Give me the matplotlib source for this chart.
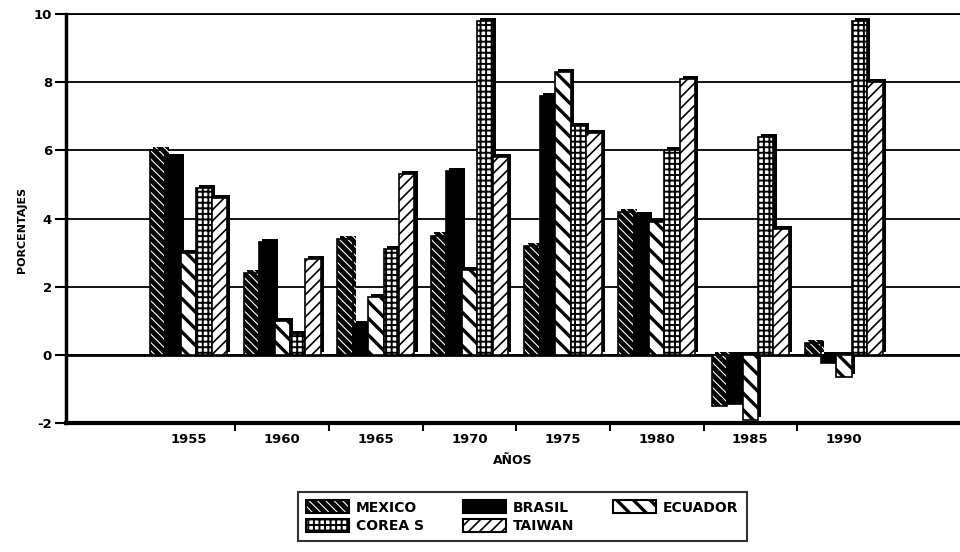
"""Tasa de crecimiento: Mexico, Brasil, Ecuador, Corea S y Taiwan"""

import numpy as np
import matplotlib.pyplot as plt
import matplotlib.patheffects as pe
from matplotlib.patches import Patch, Rectangle
from matplotlib.legend_handler import HandlerTuple, HandlerPatch

years = ["1955", "1960", "1965", "1970", "1975", "1980", "1985", "1990"]
mexico = [6.0, 2.4, 3.4, 3.5, 3.2, 4.2, -1.5, 0.35]
brasil = [5.8, 3.3, 0.9, 5.4, 7.6, 4.1, -1.45, -0.25]
ecuador = [3.0, 1.0, 1.7, 2.5, 8.3, 3.9, -1.9, -0.65]
corea = [4.9, 0.6, 3.1, 9.8, 6.7, 6.0, 6.4, 9.8]
taiwan = [4.6, 2.8, 5.3, 5.8, 6.5, 8.1, 3.7, 8.0]
names = ["MEXICO", "BRASIL", "ECUADOR", "COREA S", "TAIWAN"]

# face, hatch colour, hatch, hatch linewidth
styles = [
    ("black", "white", "\\\\\\\\", 0.8),
    ("black", "black", "", 1.0),
    ("white", "black", "\\\\", 2.4),
    ("white", "black", "+++", 1.4),
    ("white", "black", "///", 1.2),
]

plt.rcParams["font.family"] = "DejaVu Sans"
plt.rcParams["font.weight"] = "bold"


def legend_rect(legend, orig_handle, xdescent, ydescent, width, height, fontsize):
    """legend box that keeps the hatch line width of its series"""
    with plt.rc_context({"hatch.linewidth": getattr(orig_handle, "hlw", 1.0)}):
        return Rectangle((-xdescent, -ydescent), width, height)


fig = plt.figure(figsize=(9.6, 5.52), dpi=100)
ax = fig.add_axes([66 / 960, 1 - 423 / 552, 1 - 66 / 960, (423 - 14) / 552])

x = np.arange(len(years))
width = 0.165
shadow = [pe.SimplePatchShadow(offset=(2.2, 2.2), shadow_rgbFace="black", alpha=1.0), pe.Normal()]

handles = []
for k, vals in enumerate([mexico, brasil, ecuador, corea, taiwan]):
    face, hcol, hatch, hlw = styles[k]
    pos = x + (k - 2) * width
    with plt.rc_context({"hatch.linewidth": hlw}):
        ax.bar(pos, vals, width, color=face, edgecolor=hcol, hatch=hatch,
               linewidth=0, zorder=3, path_effects=shadow)
        ax.bar(pos, vals, width, fill=False, edgecolor="black", linewidth=1.2, zorder=3)
        fp = Patch(facecolor=face, edgecolor=hcol, hatch=hatch, linewidth=0)
    fp.hlw = hlw
    op = Patch(fill=False, edgecolor="black", linewidth=1.5)
    handles.append((fp, op))

ax.set_xlim(-1.31, 8.24)
ax.set_ylim(-2, 10)
ax.set_yticks(range(-2, 11, 2))
ax.set_yticklabels([str(v) for v in range(-2, 11, 2)], fontsize=9.5, fontweight="bold")
ax.yaxis.grid(True, color="black", linewidth=1.3, zorder=1)
ax.axhline(0, color="black", linewidth=2.0, zorder=2)

ax.set_xticks(x[:-1] + 0.5)
ax.set_xticklabels([])
ax.set_xticks(x, minor=True)
ax.set_xticklabels(years, minor=True, fontsize=9.5, fontweight="bold")
ax.tick_params(axis="x", which="major", direction="out", length=6, width=1.5)
ax.tick_params(axis="x", which="minor", length=0, pad=7)
ax.tick_params(axis="y", direction="out", length=8, width=1.5, pad=2)

ax.spines["right"].set_visible(False)
ax.spines["left"].set_linewidth(2.5)
ax.spines["bottom"].set_linewidth(3)
ax.spines["top"].set_linewidth(1.3)

ax.set_xlabel("AÑOS", fontsize=9, fontweight="bold")
ax.xaxis.set_label_coords((513 - 66) / (960 - 66), -0.076)
ax.set_ylabel("PORCENTAJES", fontsize=8, fontweight="bold")
ax.yaxis.set_label_coords(-0.044, 0.472)

order = [0, 3, 1, 4, 2]
leg = fig.legend([handles[i] for i in order], [names[i] for i in order],
                 handler_map={tuple: HandlerTuple(ndivide=1, pad=0),
                              Patch: HandlerPatch(patch_func=legend_rect)},
                 loc="upper center", bbox_to_anchor=(0.544, 0.121), ncol=3,
                 fontsize=10, frameon=True, fancybox=False, edgecolor="black",
                 handlelength=3.1, handleheight=1.05, columnspacing=2.8,
                 handletextpad=0.5, borderpad=0.6, labelspacing=0.3)
leg.get_frame().set_linewidth(1.5)

fig.savefig("out.png", dpi=100)
